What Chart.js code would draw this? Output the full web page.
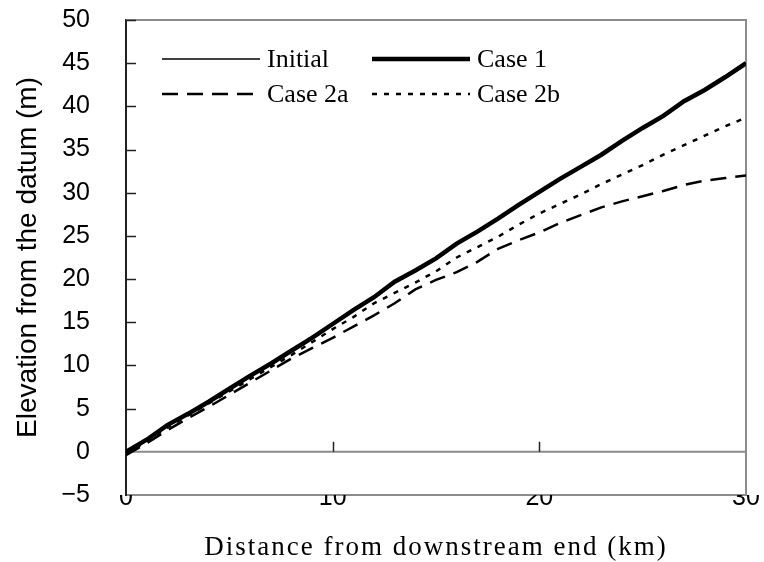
<!DOCTYPE html>
<html>
<head>
<meta charset="utf-8">
<script src="https://cdn.jsdelivr.net/npm/chart.js@4"></script>
<style>
  body { margin: 0; background: #fff; }
  #wrap { width: 764px; height: 562px; }
</style>
</head>
<body>
<div id="wrap"><canvas id="riverChart" width="764" height="562"></canvas></div>
<script>
// distance from downstream end (km)
const distance = [0, 1, 2, 3, 4, 5, 6, 7, 8, 9, 10, 11, 12, 13, 14, 15, 16, 17, 18, 19, 20, 21, 22, 23, 24, 25, 26, 27, 28, 29, 30];
// bed elevation (m)
const initial = [0, 1.4, 3.1, 4.4, 5.8, 7.3, 8.8, 10.2, 11.7, 13.2, 14.8, 16.4, 17.9, 19.7, 21.0, 22.4, 24.1, 25.5, 27.0, 28.6, 30.1, 31.6, 33.0, 34.4, 36.0, 37.5, 38.9, 40.6, 41.9, 43.4, 45.0];
const case1 = [0, 1.4, 3.1, 4.4, 5.8, 7.3, 8.8, 10.2, 11.7, 13.2, 14.8, 16.4, 17.9, 19.7, 21.0, 22.4, 24.1, 25.5, 27.0, 28.6, 30.1, 31.6, 33.0, 34.4, 36.0, 37.5, 38.9, 40.6, 41.9, 43.4, 45.0];
const case2a = [-0.4, 1.0, 2.5, 3.9, 5.2, 6.6, 8.0, 9.4, 10.8, 12.0, 13.2, 14.5, 15.8, 17.2, 18.8, 19.9, 20.8, 22.0, 23.5, 24.5, 25.4, 26.5, 27.4, 28.3, 29.0, 29.6, 30.2, 30.9, 31.4, 31.7, 32.0];
const case2b = [-0.2, 1.2, 2.8, 4.2, 5.6, 7.0, 8.4, 9.8, 11.2, 12.7, 14.2, 15.6, 17.2, 18.4, 19.6, 20.9, 22.5, 23.7, 24.9, 26.3, 27.6, 28.7, 29.8, 31.0, 32.1, 33.2, 34.4, 35.5, 36.6, 37.7, 38.7];

const xTicks = [0, 10, 20, 30];
const yTicks = [-5, 0, 5, 10, 15, 20, 25, 30, 35, 40, 45, 50];

function pts(vals) {
  return distance.map((d, i) => ({ x: d, y: vals[i] }));
}

const sansFont = '"Liberation Sans", Arial, sans-serif';
const serifFont = '"Liberation Serif", "Times New Roman", serif';

// frame, zero line, inner ticks, legend and axis titles
const decorations = {
  id: 'decorations',
  beforeDatasetsDraw(chart) {
    const { ctx, chartArea: a, scales: { x, y } } = chart;
    ctx.save();
    ctx.lineWidth = 2;
    ctx.strokeStyle = '#8c8c8c';
    ctx.beginPath();
    ctx.moveTo(a.left, a.top); ctx.lineTo(a.right, a.top); ctx.lineTo(a.right, a.bottom);
    const y0 = y.getPixelForValue(0);
    ctx.moveTo(a.left, y0); ctx.lineTo(a.right, y0);
    ctx.stroke();

    ctx.strokeStyle = '#222';
    ctx.lineWidth = 1.5;
    ctx.beginPath();
    yTicks.forEach(v => {
      if (v <= 0) return;
      const py = Math.round(y.getPixelForValue(v)) + 0.5;
      ctx.moveTo(a.left, py); ctx.lineTo(a.left + 10, py);
    });
    xTicks.forEach(v => {
      if (v <= 0 || v >= 30) return;
      const px = Math.round(x.getPixelForValue(v)) + 0.5;
      ctx.moveTo(px, y0); ctx.lineTo(px, y0 - 10);
    });
    ctx.stroke();
    ctx.restore();
  },
  afterDraw(chart) {
    const { ctx, chartArea: a } = chart;
    ctx.save();
    // legend
    const spots = [[162, 59], [372, 59], [162, 94], [372, 94]];
    ctx.font = '26px ' + serifFont;
    ctx.textBaseline = 'middle';
    ctx.fillStyle = '#000';
    chart.data.datasets.forEach((ds, i) => {
      const [lx, ly] = spots[i];
      ctx.strokeStyle = '#000';
      ctx.lineWidth = ds.borderWidth;
      ctx.setLineDash(ds.borderDash || []);
      ctx.beginPath();
      ctx.moveTo(lx, ly); ctx.lineTo(lx + 98, ly);
      ctx.stroke();
      ctx.setLineDash([]);
      ctx.fillText(ds.label, lx + 105, ly + 1);
    });
    // x title
    ctx.font = '27px ' + serifFont;
    ctx.letterSpacing = '2px';
    ctx.textAlign = 'center';
    ctx.textBaseline = 'alphabetic';
    ctx.fillText('Distance from downstream end (km)', (a.left + a.right) / 2, 555);
    ctx.letterSpacing = '0px';
    // y title
    ctx.translate(28, (a.top + a.bottom) / 2);
    ctx.rotate(-Math.PI / 2);
    ctx.font = '28px ' + sansFont;
    ctx.textBaseline = 'middle';
    ctx.fillText('Elevation from the datum (m)', 0, 0);
    ctx.restore();
  }
};

const ctx = document.getElementById('riverChart').getContext('2d');
const riverChart = new Chart(ctx, {
  type: 'line',
  data: {
    datasets: [{
      label: 'Initial',
      data: pts(initial),
      borderColor: '#000',
      borderWidth: 1.5,
    }, {
      label: 'Case 1',
      data: pts(case1),
      borderColor: '#000',
      borderWidth: 4.5,
    }, {
      label: 'Case 2a',
      data: pts(case2a),
      borderColor: '#000',
      borderWidth: 2.5,
      borderDash: [16, 9],
    }, {
      label: 'Case 2b',
      data: pts(case2b),
      borderColor: '#000',
      borderWidth: 2.5,
      borderDash: [5, 7],
    }]
  },
  options: {
    responsive: false,
    animation: false,
    layout: { padding: { left: 0, right: 18, top: 20, bottom: 0 } },
    elements: { point: { radius: 0 }, line: { tension: 0, fill: false } },
    plugins: { legend: { display: false }, tooltip: { enabled: false } },
    scales: {
      x: {
        type: 'linear',
        min: 0,
        max: 30,
        afterFit: s => { s.height = 67; s.paddingTop = 0; s.paddingBottom = 0; },
        afterBuildTicks: s => { s.ticks = xTicks.map(v => ({ value: v })); },
        grid: { display: false, drawTicks: false },
        border: { color: '#8c8c8c', width: 2 },
        ticks: { padding: -12, color: '#000', font: { family: sansFont, size: 25 } }
      },
      y: {
        min: -5,
        max: 50,
        afterFit: s => { s.width = 126; s.paddingTop = 0; s.paddingBottom = 0; },
        afterBuildTicks: s => { s.ticks = yTicks.map(v => ({ value: v })); },
        grid: { display: false, drawTicks: false },
        border: { color: '#222', width: 2 },
        ticks: {
          padding: 36,
          color: '#000',
          font: { family: sansFont, size: 25 },
          callback: v => String(v).replace('-', '\u2212')
        }
      }
    }
  },
  plugins: [decorations]
});
</script>
</body>
</html>
